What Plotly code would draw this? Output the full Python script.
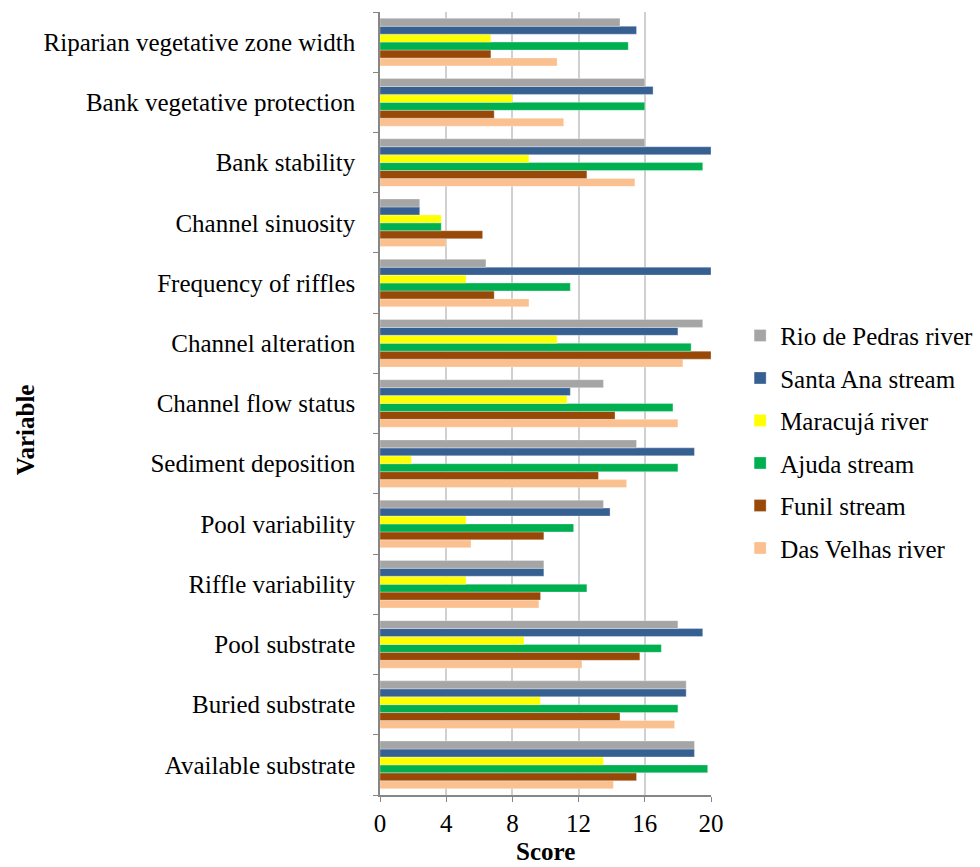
import plotly.graph_objects as go

# Habitat assessment variables, listed bottom to top
variables = [
    "Available substrate",
    "Buried substrate",
    "Pool substrate",
    "Riffle variability",
    "Pool variability",
    "Sediment deposition",
    "Channel flow status",
    "Channel alteration",
    "Frequency of riffles",
    "Channel sinuosity",
    "Bank stability",
    "Bank vegetative protection",
    "Riparian vegetative zone width",
]

rio_de_pedras = [19.0, 18.5, 18.0, 9.9, 13.5, 15.5, 13.5, 19.5, 6.4, 2.4, 16.0, 16.0, 14.5]
santa_ana = [19.0, 18.5, 19.5, 9.9, 13.9, 19.0, 11.5, 18.0, 20.0, 2.4, 20.0, 16.5, 15.5]
maracuja = [13.5, 9.7, 8.7, 5.2, 5.2, 1.9, 11.3, 10.7, 5.2, 3.7, 9.0, 8.0, 6.7]
ajuda = [19.8, 18.0, 17.0, 12.5, 11.7, 18.0, 17.7, 18.8, 11.5, 3.7, 19.5, 16.0, 15.0]
funil = [15.5, 14.5, 15.7, 9.7, 9.9, 13.2, 14.2, 20.0, 6.9, 6.2, 12.5, 6.9, 6.7]
das_velhas = [14.1, 17.8, 12.2, 9.6, 5.5, 14.9, 18.0, 18.3, 9.0, 4.0, 15.4, 11.1, 10.7]

series_names = [
    "Rio de Pedras river",
    "Santa Ana stream",
    "Maracujá river",
    "Ajuda stream",
    "Funil stream",
    "Das Velhas river",
]
series_values = [rio_de_pedras, santa_ana, maracuja, ajuda, funil, das_velhas]
series_colors = ["#A5A5A5", "#376092", "#FFFF00", "#00B050", "#984807", "#FAC090"]

x_ticks = [0, 4, 8, 12, 16, 20]

FONT = "Liberation Serif, Times New Roman, serif"
FS = 25

fig = go.Figure()
# Traces are added in reverse so the first series sits at the top of each group;
# legendrank keeps the legend in the original series order.
series = list(zip(series_names, series_values, series_colors))
for rank, (name, vals, col) in reversed(list(enumerate(series))):
    fig.add_trace(go.Bar(
        y=variables,
        x=vals,
        name=name,
        orientation="h",
        legendgroup=name,
        legendrank=rank + 1,
        marker=dict(color=col, line=dict(color="rgba(255,255,255,0.6)", width=0.5)),
    ))

fig.update_layout(
    width=980,
    height=867,
    margin=dict(l=380, r=269, t=12, b=72, autoexpand=False),
    paper_bgcolor="white",
    plot_bgcolor="white",
    barmode="group",
    bargap=0.21,
    bargroupgap=0,
    font=dict(family=FONT, size=FS, color="black"),
    legend=dict(
        x=1.088,
        y=0.616,
        xanchor="left",
        yanchor="top",
        traceorder="grouped",
        tracegroupgap=7,
        font=dict(family=FONT, size=FS, color="black"),
        itemwidth=30,
    ),
    xaxis=dict(
        range=[0, 20],
        tickvals=x_ticks,
        ticktext=[str(t) for t in x_ticks],
        showgrid=True,
        gridcolor="#D0D0D0",
        gridwidth=1.5,
        showline=True,
        linecolor="#868686",
        linewidth=1.5,
        ticks="outside",
        ticklen=5,
        tickcolor="#868686",
        zeroline=False,
        tickfont=dict(family=FONT, size=FS, color="black"),
    ),
    yaxis=dict(
        categoryorder="array",
        categoryarray=variables,
        showline=True,
        linecolor="#868686",
        linewidth=1.5,
        ticks="outside",
        tickson="boundaries",
        ticklen=5,
        tickcolor="#868686",
        showgrid=False,
        ticklabelstandoff=18,
        tickfont=dict(family=FONT, size=FS, color="black"),
    ),
    annotations=[
        dict(text="<b>Score</b>", x=0.4985, y=-0.072, xref="paper", yref="paper",
             showarrow=False, font=dict(family=FONT, size=FS, color="black"),
             xanchor="center", yanchor="middle"),
        dict(text="<b>Variable</b>", x=-1.072, y=0.466, xref="paper", yref="paper",
             showarrow=False, textangle=-90, font=dict(family=FONT, size=FS, color="black"),
             xanchor="center", yanchor="middle"),
    ],
)

fig.write_html("out.html")
